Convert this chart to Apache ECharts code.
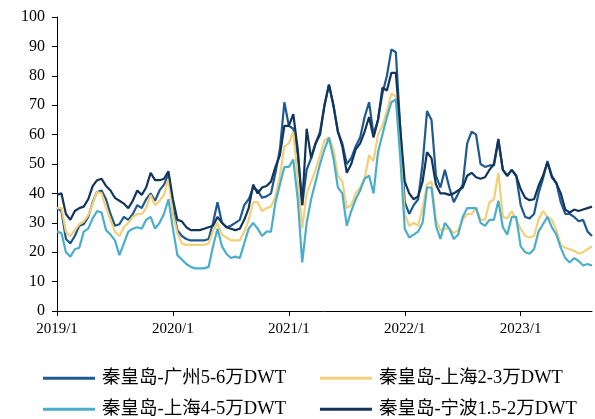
<!DOCTYPE html>
<html>
<head>
<meta charset="utf-8">
<script src="https://cdn.jsdelivr.net/npm/echarts@6/dist/echarts.min.js"></script>
<style>html,body{margin:0;padding:0;background:#fff}#c{width:595px;height:419px}</style>
</head>
<body>
<div id="c"></div>
<script>
// bi-weekly observations starting 2019-01-01
const startDate = '2019-01-01';
const stepDays = 14;
const seriesNames = ['秦皇岛-广州5-6万DWT','秦皇岛-上海2-3万DWT','秦皇岛-上海4-5万DWT','秦皇岛-宁波1.5-2万DWT'];
const guangzhou56 = [35,34,24.5,23,25.5,29,29.5,32,37,40.5,41,38,33,29,29.5,
32,31,33,36,35,38,40,37.5,41,43,46.5,35,27.5,25.5,24.5,24,
24,24,24,24.5,30,37,30,28.5,29,30,31,36,38,42,41,
38.5,39,40,47,55,71,63,62,53,36,48,52,57,61,70,
77,70,61,57,50,52,56,59,66,71,60,65,74,80,89,
88,62,37,33,36,38,50,68,65,46,42,48,42,37,40,
43,57,61,60,50,49,49.5,49.5,58,48,46,48,46,36,32,
31.5,33,40,45,51,46,43.5,37,33,33,32,30.5,31,27,25.5];
const shanghai23 = [35,35,27,25.5,27.5,29.5,30.5,32.5,36.5,40.5,40,35,31,27,25.5,
28.5,30,32,33,33,35,39.5,36,37.5,39.5,45,33,26.5,23,22.5,22.5,
22.5,22.5,22.5,23,27,30,26,25,24,24,24,27,31,37,37,
34,35,35.5,39,46,56,57,61,45,28,40,44,48,53,58,
59,55,46,44,35,36,40,42,45,53,51,60,63,68,74,
73,57,33,29,30,29,35,43,44,31,27.5,28,28,26.5,27.5,
31,33,33,35,31,31,37,38,47,32,31.5,34,31,28,25.5,
25,25.5,31,34,32,31,27.5,22.5,21.5,21,20.5,19.5,20,21,22];
const shanghai45 = [27,26.5,20,18.5,21,21.5,27,28,31.5,34,33.5,27.5,26,24,19,
23,27,28,28.5,28,31,32,28,30,33,38,28,19,17.5,16,15,
14.5,14.5,14.5,15,22,28,22,19.5,18,18.5,18,23,28,30,28,
25.5,27,27,37,43,49,49,51.5,38,16.5,30,38,44,50,55,
59,52,42,40,29,34,38,41,45,46,40,54,60,66,71,
72,52,28,25,26,27,30,42,42,29,24.5,30,28,24.5,26,
32,35,35,35,30,29,31,31,37.5,28.5,26,32,32,22,20,
19.5,21,27,29.5,32,28.5,26,21.5,18,16.5,18,17,15.5,16,15.5];
const ningbo152 = [39.5,40,33,31,34,35,35.5,38,42.5,44.5,45,42.5,41,38.5,37.5,
36.5,35,37.5,41,39.5,42,47,44.5,44.5,45,47.5,38,31,30.5,28.5,27.5,
27.5,27.5,28,28.5,29,32,30,28.5,28,27.5,28,31,35,43,40,
42,42.5,44,49,53,63,63,67,55,36,62,52,57,60,70,
77,70,61,56,47,50,55,57,61,66,59,65,76,75,81,
81,62,44,40,38,39,44,54,52,43,40,40,39.5,40,41,
42,46,47,45.5,45,45.5,48,50,58.5,48,46,48,46,41.5,38.5,
37.7,38,42.5,46,50.5,45.5,43.5,40,34.5,33.5,34.5,34,34.5,35,35.5];
const yTicks = {min: 0, max: 100, interval: 10};
const colors = ['#1f5a8e', '#f2d07a', '#4aaecb', '#13355c'];

const dates = [];
(function(){
  const t0 = Date.parse(startDate + 'T00:00:00Z');
  for (let i = 0; i < ningbo152.length; i++) {
    dates.push(new Date(t0 + i * stepDays * 86400000).toISOString().slice(0,10));
  }
})();
function yearOfShifted(v){ return new Date(Date.parse(v + 'T00:00:00Z') + 7*86400000).getUTCFullYear(); }
function isYearStart(idx, v){
  if (idx === 0) return true;
  return yearOfShifted(v) !== Number(v.slice(0,4));
}
const fontFam = "'Liberation Serif', 'Times New Roman', 'Noto Sans CJK SC', serif";
const chart = echarts.init(document.getElementById('c'), null, {renderer: 'canvas'});
const allData = [guangzhou56, shanghai23, shanghai45, ningbo152];
const legendBase = {left: 43, itemGap: 34, itemWidth: 52, itemHeight: 3, icon: 'rect', padding: 0,
  textStyle: {color: '#000', fontSize: 18.5, fontFamily: fontFam, padding: [0, 0, 0, 2]}};
chart.setOption({
  animation: false,
  backgroundColor: '#fff',
  grid: {left: 57, right: 3, top: 17, bottom: 108, containLabel: false},
  xAxis: {
    type: 'category', data: dates, boundaryGap: false,
    axisLine: {lineStyle: {color: '#000', width: 1}},
    axisTick: {show: true, length: 5, interval: isYearStart, lineStyle: {color: '#000'}},
    axisLabel: {interval: isYearStart, margin: 11, color: '#000', fontSize: 15, fontFamily: fontFam,
      formatter: function(v){ const idx = dates.indexOf(v); return (idx === 0 ? v.slice(0,4) : yearOfShifted(v)) + '/1'; }},
    splitLine: {show: false}
  },
  yAxis: {
    type: 'value', min: yTicks.min, max: yTicks.max, interval: yTicks.interval,
    axisLine: {show: true, lineStyle: {color: '#000', width: 1}},
    axisTick: {show: true, length: 5, lineStyle: {color: '#000'}},
    axisLabel: {color: '#000', fontSize: 16, fontFamily: fontFam, margin: 12},
    splitLine: {show: false}
  },
  legend: [
    Object.assign({}, legendBase, {data: [seriesNames[0], seriesNames[1]], top: 369}),
    Object.assign({}, legendBase, {data: [seriesNames[2], seriesNames[3]], top: 400})
  ],
  series: allData.map(function(d, k){
    return {name: seriesNames[k], type: 'line', data: d, symbol: 'none', smooth: false,
      lineStyle: {color: colors[k], width: 2.2}, itemStyle: {color: colors[k]}, z: 2 + k};
  })
});
</script>
</body>
</html>
